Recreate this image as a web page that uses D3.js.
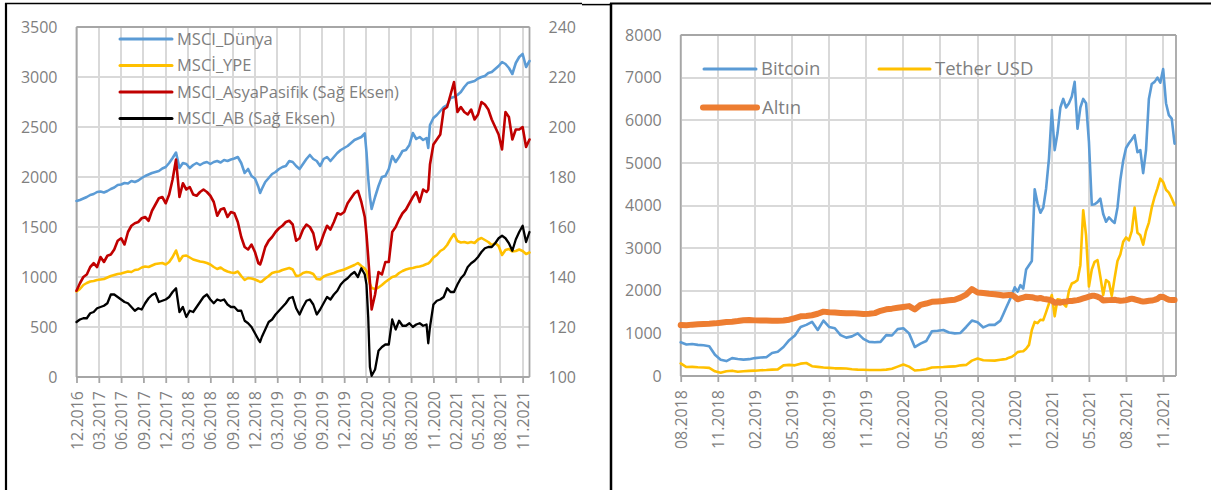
<!DOCTYPE html>
<html><head><meta charset="utf-8">
<script src="https://cdn.jsdelivr.net/npm/d3@7"></script>
<style>
body{margin:0;background:#fff}
svg{display:block}
text{font-family:'Open Sans','Noto Sans',sans-serif;fill:#7f7f7f}
</style></head>
<body><svg id="c" width="1211" height="490"></svg>
<script>
// ---------------- LEFT PANEL DATA (weekly index from 12.2016) ----------------
const leftTickLabels = ["12.2016","03.2017","06.2017","09.2017","12.2017","03.2018","06.2018","09.2018","12.2018","03.2019","06.2019","09.2019","12.2019","02.2020","05.2020","08.2020","11.2020","02.2021","05.2021","08.2021","11.2021"];
const leftTickWeeks = [0,13,26,39,52,65,78,91,104,117,130,143,156,169,182,195,208,221,234,247,260];
const leftYTicks = [0,500,1000,1500,2000,2500,3000,3500];
const leftY2Ticks = [100,120,140,160,180,200,220,240];
const leftWeeks = [0,2,4,6,8,10,12,14,16,18,20,22,24,26,28,30,32,34,36,38,40,42,44,46,48,50,52,54,56,58,60,62,64,66,68,70,72,74,76,78,80,82,84,86,88,90,92,94,96,98,100,102,104,106,107,108,110,112,114,116,118,120,122,124,126,128,130,132,134,136,138,140,142,144,146,148,150,152,154,156,158,160,162,164,166,168,169,170,171,172,174,176,178,180,182,184,186,188,190,192,194,196,198,200,202,204,205,206,208,210,212,214,216,218,220,222,224,226,228,230,232,234,236,238,240,242,244,246,248,250,252,254,256,258,260,262,264];
const msciDunya = [1760,1770,1785,1800,1820,1830,1850,1855,1845,1860,1880,1895,1920,1925,1940,1935,1960,1950,1965,1990,2010,2025,2040,2050,2060,2085,2100,2140,2190,2245,2090,2140,2130,2090,2120,2140,2120,2140,2150,2130,2150,2160,2145,2170,2160,2175,2185,2200,2140,2040,2080,2010,1985,1900,1840,1880,1950,1990,2030,2050,2080,2100,2110,2160,2150,2110,2080,2130,2180,2220,2180,2160,2110,2180,2200,2160,2200,2240,2270,2290,2310,2340,2370,2385,2400,2435,2250,1990,1800,1680,1800,1910,2000,2010,2080,2210,2150,2200,2260,2270,2320,2440,2380,2400,2370,2390,2290,2520,2590,2620,2660,2700,2720,2790,2800,2820,2850,2900,2940,2950,2960,2985,3000,3010,3040,3050,3080,3110,3150,3130,3090,3030,3140,3200,3230,3100,3160];
const msciYPE = [855,880,920,940,955,960,970,975,980,995,1010,1020,1030,1035,1045,1055,1050,1070,1075,1095,1105,1100,1115,1130,1135,1140,1125,1150,1200,1265,1160,1210,1215,1195,1175,1165,1155,1150,1140,1125,1100,1080,1095,1070,1055,1045,1040,1055,1010,970,990,985,975,960,950,955,985,1010,1040,1050,1055,1070,1080,1090,1075,1010,1015,1040,1050,1045,1030,980,975,1005,1020,1030,1040,1055,1065,1075,1090,1105,1120,1140,1110,1085,1060,1000,930,890,880,895,920,950,975,1000,1010,1040,1060,1075,1085,1090,1100,1105,1115,1130,1135,1150,1195,1220,1260,1280,1320,1380,1430,1360,1345,1350,1340,1350,1340,1375,1390,1370,1350,1320,1340,1310,1220,1270,1280,1255,1260,1275,1260,1230,1245];
const msciAsyaPasifik = [134.5,137.5,140,141,144,145.5,144,148,146,148.5,149,151,154.5,155.5,153,158,160.5,161.5,162,163.5,164,162.5,166.5,169,171.5,172,169.5,173,179,187,172,177.5,175,176,173,172.5,174,175,174,172.5,170,164.5,167,167.5,164,166,165.5,162,156,152,151,153,150,145.5,145,147,152,154.5,156,158,159.5,160.5,162,162.5,161,154.5,155.5,159,161,160,157.5,151,153,157,160.5,159,162,165.5,165,166,169.5,171.5,173.5,174.5,170,164,157,148,138,127,133,142,141,146,146,158,160,163,165.5,167,169.5,172,174,170,175,174,175,185,193,195,197,207,208,213,218,206,208,206,205,207,203,205,210,209,207,203,200,197,191,206,204,195,199,199,200,192,195];
const msciAB = [122,123,123.5,123.5,125.5,126,127.5,128,128.5,129.5,133,133,132,131,130,129.5,128,126.5,127.5,127,129.5,131.5,132.8,133.5,130,130.5,131,132,134,135.5,126,128,124,126.5,126,128,130,132,133,131,129.5,131,130.5,131,129,128,128,126.5,126.5,122.5,121.5,120,117.5,115,114,116,119,122,123,125,126.5,128,129.5,131.5,132,127.5,125,128,130.5,131,129,125,127,129.5,132,131,133,134.5,137,138.5,139.5,141,142,140,143.5,141,137,124,104,100.5,103,110.5,112,113,113,123,119,122.5,120.5,120.5,121.5,120,121,121.5,120.5,121,113.5,120,129,130.5,131,132,135.5,134,134,137,139.5,141,144,145.5,146.5,148,150,151.5,152,152,153.5,155.5,156.5,155.5,153.5,150.5,155,158,160.5,154,158];

// ---------------- RIGHT PANEL DATA (weekly index from 08.2018) ----------------
const rightTickLabels = ["08.2018","11.2018","02.2019","05.2019","08.2019","11.2019","02.2020","05.2020","08.2020","11.2020","02.2021","05.2021","08.2021","11.2021"];
const rightTickWeeks = [0,13,26,39,52,65,78,91,104,117,130,143,156,169];
const rightYTicks = [0,1000,2000,3000,4000,5000,6000,7000,8000];
const rightWeeks = [0,2,4,6,8,10,12,14,16,18,20,22,24,26,28,30,32,34,36,38,40,42,44,46,48,50,52,54,56,58,60,62,64,66,68,70,72,74,76,78,80,82,84,86,88,90,92,94,96,98,100,102,104,106,108,110,112,113,114,115,116,117,118,119,120,121,122,123,124,125,126,127,128,129,130,131,132,133,134,135,136,137,138,139,140,141,142,143,144,145,146,147,148,149,150,151,152,153,154,155,156,157,158,159,160,161,162,163,164,165,166,167,168,169,170,171,172,173];
const bitcoin = [790,740,750,730,720,700,500,380,350,420,400,385,395,420,435,440,540,570,680,840,950,1150,1200,1270,1080,1300,1150,1120,960,900,930,1000,870,800,790,800,960,950,1100,1120,1000,680,760,820,1050,1060,1080,1020,1000,1010,1150,1300,1260,1140,1200,1200,1300,1450,1600,1750,1900,2080,1980,2130,2050,2500,2600,2700,4380,4050,3830,3950,4400,5100,6240,5300,5700,6300,6500,6300,6400,6560,6900,5800,6300,6500,6400,5500,4020,4030,4080,4160,3800,3620,3720,3650,3590,3950,4600,5050,5350,5460,5550,5650,5250,5300,4760,5300,6500,6850,6900,7000,6880,7200,6400,6120,6040,5450];
const tetherUSD = [297,210,215,205,200,190,110,75,110,125,100,110,120,125,135,140,150,155,250,260,250,290,305,230,215,200,190,180,180,175,160,150,145,140,140,140,150,170,220,270,220,130,140,160,200,205,210,220,225,250,260,360,410,370,365,360,380,390,400,430,450,500,560,575,580,640,730,1080,1270,1240,1320,1310,1500,1700,1900,1400,1800,1790,1700,1630,2000,2170,2200,2250,2600,3890,3300,2100,2500,2680,2720,2330,1900,2250,2200,1880,2300,2700,2850,3150,3250,3180,3400,3950,3360,3300,3080,3400,3600,3950,4200,4400,4630,4550,4370,4300,4170,4010];
const altin = [1195,1190,1205,1215,1220,1225,1235,1250,1265,1275,1290,1310,1315,1305,1300,1300,1295,1295,1300,1320,1360,1400,1410,1425,1460,1510,1495,1490,1480,1470,1475,1465,1455,1460,1475,1530,1565,1580,1600,1620,1640,1560,1670,1700,1740,1750,1760,1775,1790,1840,1910,2040,1960,1945,1930,1920,1900,1890,1895,1900,1900,1860,1800,1820,1840,1860,1855,1850,1830,1820,1830,1810,1800,1790,1770,1720,1730,1720,1740,1745,1760,1760,1770,1780,1800,1820,1840,1860,1880,1880,1860,1830,1770,1775,1780,1785,1790,1775,1765,1770,1780,1800,1815,1800,1780,1760,1745,1755,1765,1770,1785,1810,1860,1855,1820,1790,1785,1785];

// ---------------- DRAWING ----------------
const svg = d3.select("#c");
const GRID = "#d9d9d9", AXIS = "#a6a6a6", FS = "16px";
const fmt = d3.format("d");
function seg(x1,y1,x2,y2,color,w){
  return svg.append("line").attr("x1",x1).attr("y1",y1).attr("x2",x2).attr("y2",y2)
    .attr("stroke",color).attr("stroke-width",w);
}

// scales
const xL = d3.scaleLinear().domain([0,264]).range([76.5,529.5]);
const yL = d3.scaleLinear().domain([0,3500]).range([377,27]);
const yL2 = d3.scaleLinear().domain([100,240]).range([377,27]);
const xR = d3.scaleLinear().domain([0,173.5]).range([680.7,1176]);
const yR = d3.scaleLinear().domain([0,8000]).range([376,35]);

// gridlines (same as verified debug drawing)
leftYTicks.forEach(t=>seg(76.5,Math.round(yL(t)),529.5,Math.round(yL(t)),GRID,2));
leftTickWeeks.forEach(t=>seg(Math.round(xL(t)),27,Math.round(xL(t)),377,GRID,2));
rightYTicks.forEach(t=>seg(680.7,Math.round(yR(t)),1176,Math.round(yR(t)),GRID,2));
rightTickWeeks.forEach(t=>seg(Math.round(xR(t)),35,Math.round(xR(t)),376,GRID,2));

// plot frames
function frame(x0,x1,y0,y1){
  seg(x0,y1,x1,y1,AXIS,1.8); seg(x1,y1,x1,y0,AXIS,1.8); seg(x0,y1,x0,y0,AXIS,1.8); seg(x0,y0,x1,y0,AXIS,2);
}
frame(76.5,529.5,377,27);
frame(680.7,1176,376,35);

// outer cell borders
seg(5,3.5,582,3.5,"#000",1.5);
seg(582,4.6,611,4.6,"#000",1.5);
seg(610,3.5,1211,3.5,"#000",2);
seg(6,3,6,490,"#000",2.2);
seg(611,3,611,490,"#000",2.5);

function styleText(sel){
  sel.style("font-size",FS).style("font-family","'Open Sans',sans-serif").style("fill","#7f7f7f");
}
function xAxis(x, y0, ticks, labels){
  const g = svg.append("g").attr("transform",`translate(0,${y0})`)
    .call(d3.axisBottom(x).tickValues(ticks).tickSize(6).tickFormat((d,i)=>labels[i]));
  g.select(".domain").remove();
  g.selectAll(".tick line").attr("stroke",AXIS).attr("stroke-width",1.8);
  const t = g.selectAll("text").attr("transform","rotate(-90)").attr("text-anchor","end")
    .attr("x",-14).attr("y",0).attr("dy","0.35em");
  styleText(t);
}
function yAxis(scale, xPos, ticks, right){
  const ax = (right ? d3.axisRight(scale) : d3.axisLeft(scale)).tickValues(ticks).tickSize(0).tickPadding(19).tickFormat(fmt);
  const g = svg.append("g").attr("transform",`translate(${xPos},0)`).call(ax);
  g.select(".domain").remove();
  styleText(g.selectAll("text"));
}
xAxis(xL, 377, leftTickWeeks, leftTickLabels);
yAxis(yL, 76.5, leftYTicks, false);
yAxis(yL2, 529.5, leftY2Ticks, true);
xAxis(xR, 376, rightTickWeeks, rightTickLabels);
yAxis(yR, 680.7, rightYTicks, false);

function series(x, weeks, sc, values, color, width){
  const line = d3.line().x((d,i)=>x(weeks[i])).y(d=>sc(d));
  svg.append("path").datum(values).attr("d",line).attr("fill","none")
    .attr("stroke",color).attr("stroke-width",width).attr("stroke-linejoin","round").attr("stroke-linecap","round");
}
series(xL, leftWeeks, yL, msciDunya, "#5b9bd5", 2.6);
series(xL, leftWeeks, yL, msciYPE, "#ffc000", 2.6);
series(xL, leftWeeks, yL2, msciAsyaPasifik, "#c00000", 2.6);
series(xL, leftWeeks, yL2, msciAB, "#000000", 2.3);
series(xR, rightWeeks, yR, bitcoin, "#5b9bd5", 2.6);
series(xR, rightWeeks, yR, tetherUSD, "#ffc000", 2.6);
series(xR, rightWeeks, yR, altin, "#ed7d31", 6);

function legend(label, color, x, len, y, width, fs){
  seg(x,y,x+len,y,color,width).attr("stroke-linecap","round");
  svg.append("text").attr("x",x+len+5).attr("y",y).attr("dy","0.35em").style("font-size",fs).text(label);
}
legend("MSCI_Dünya", "#5b9bd5", 120, 52, 39, 3, "16.5px");
legend("MSCİ_YPE", "#ffc000", 120, 52, 65.5, 3, "16.5px");
legend("MSCI_AsyaPasifik (Sağ Eksen)", "#c00000", 120, 52, 92, 3, "16.5px");
legend("MSCI_AB (Sağ Eksen)", "#000000", 120, 52, 118.5, 3, "16.5px");
legend("Bitcoin", "#5b9bd5", 704, 52, 69, 3, "18.5px");
legend("Tether USD", "#ffc000", 879, 51, 69, 3, "18.5px");
legend("Altın", "#ed7d31", 703, 54, 107.5, 6, "18.5px");
</script></body></html>
